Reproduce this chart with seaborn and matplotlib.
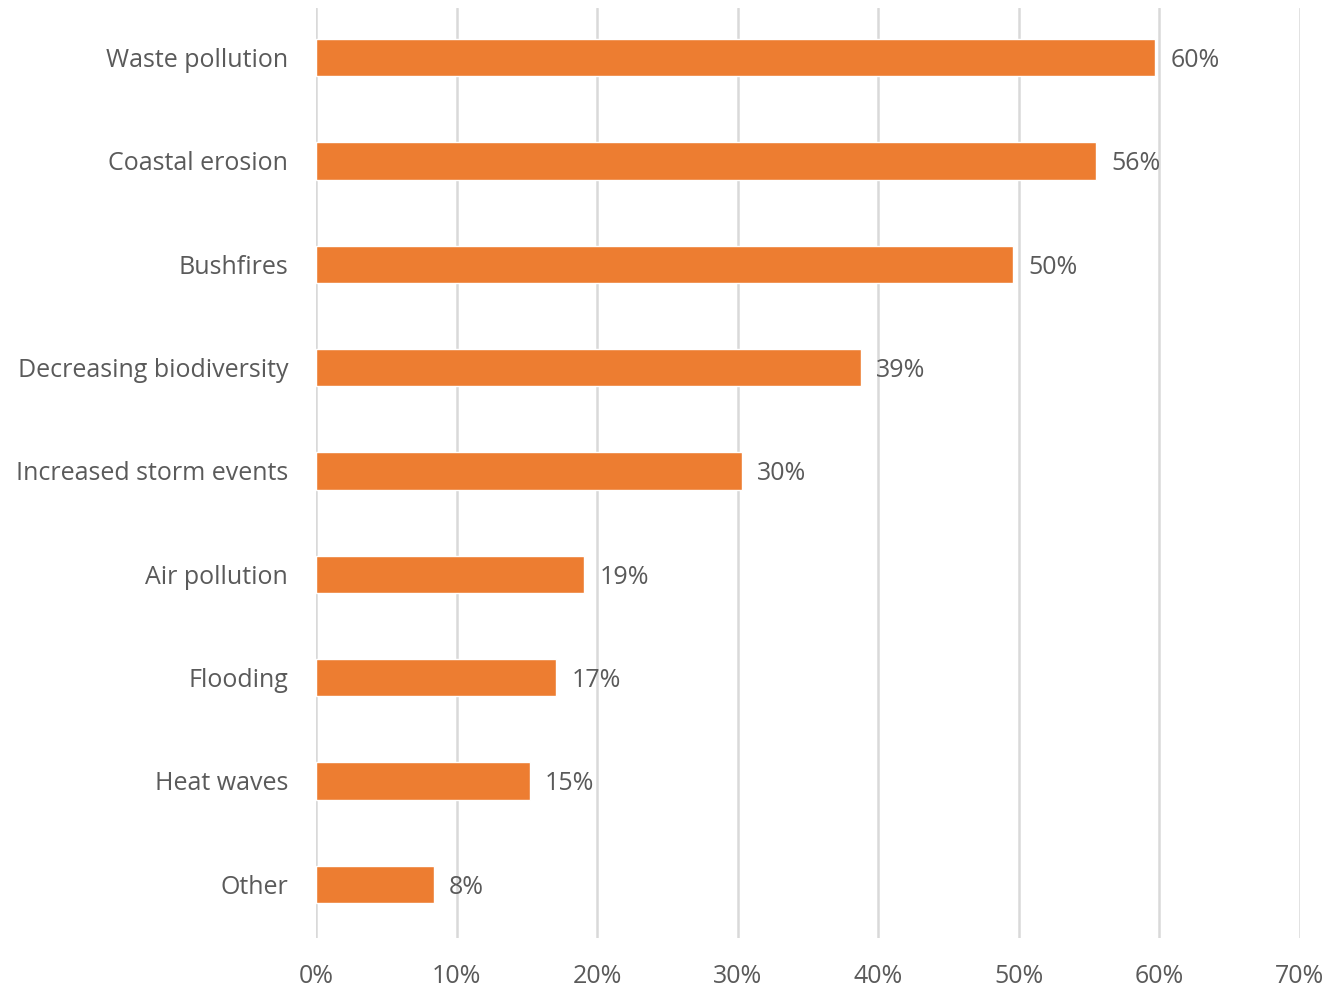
import matplotlib
matplotlib.use("Agg")
import matplotlib.pyplot as plt
import seaborn as sns
import pandas as pd

categories = ["Waste pollution", "Coastal erosion", "Bushfires", "Decreasing biodiversity",
              "Increased storm events", "Air pollution", "Flooding", "Heat waves", "Other"]
values = [59.7, 55.5, 49.6, 38.8, 30.3, 19.1, 17.1, 15.2, 8.4]
value_labels = ["60%", "56%", "50%", "39%", "30%", "19%", "17%", "15%", "8%"]
xticks = [0, 10, 20, 30, 40, 50, 60, 70]
xtick_labels = ["0%", "10%", "20%", "30%", "40%", "50%", "60%", "70%"]

sns.set_theme(style="white")
plt.rcParams["font.family"] = ["Open Sans", "DejaVu Sans"]

df = pd.DataFrame({"category": categories, "value": values})
text_color = "#5a5a5a"

fig = plt.figure(figsize=(13.42, 9.89), dpi=100)
ax = fig.add_axes([316 / 1342, 51 / 989, 984 / 1342, 930 / 989])

sns.barplot(data=df, x="value", y="category", color="#ED7D31", saturation=1,
            width=0.36, ax=ax, zorder=3)

ax.set_xlim(0, 70)
ax.set_ylim(8.52, -0.48)
ax.set_xticks(xticks)
ax.set_xticklabels(xtick_labels)
ax.grid(axis="x", color="#d9d9d9", linewidth=1.8, zorder=0)
ax.grid(axis="y", visible=False)
for s in ax.spines.values():
    s.set_visible(False)
ax.set_xlabel("")
ax.set_ylabel("")
ax.tick_params(axis="x", length=0, pad=19, labelsize=18, labelcolor=text_color)
ax.tick_params(axis="y", length=0, pad=20, labelsize=18, labelcolor=text_color)

for i, (v, lab) in enumerate(zip(values, value_labels)):
    ax.annotate(lab, xy=(v, i), xytext=(15, -3), textcoords="offset pixels",
                va="center", ha="left", fontsize=18, color=text_color)

fig.savefig("out.png", dpi=100, facecolor="white")
